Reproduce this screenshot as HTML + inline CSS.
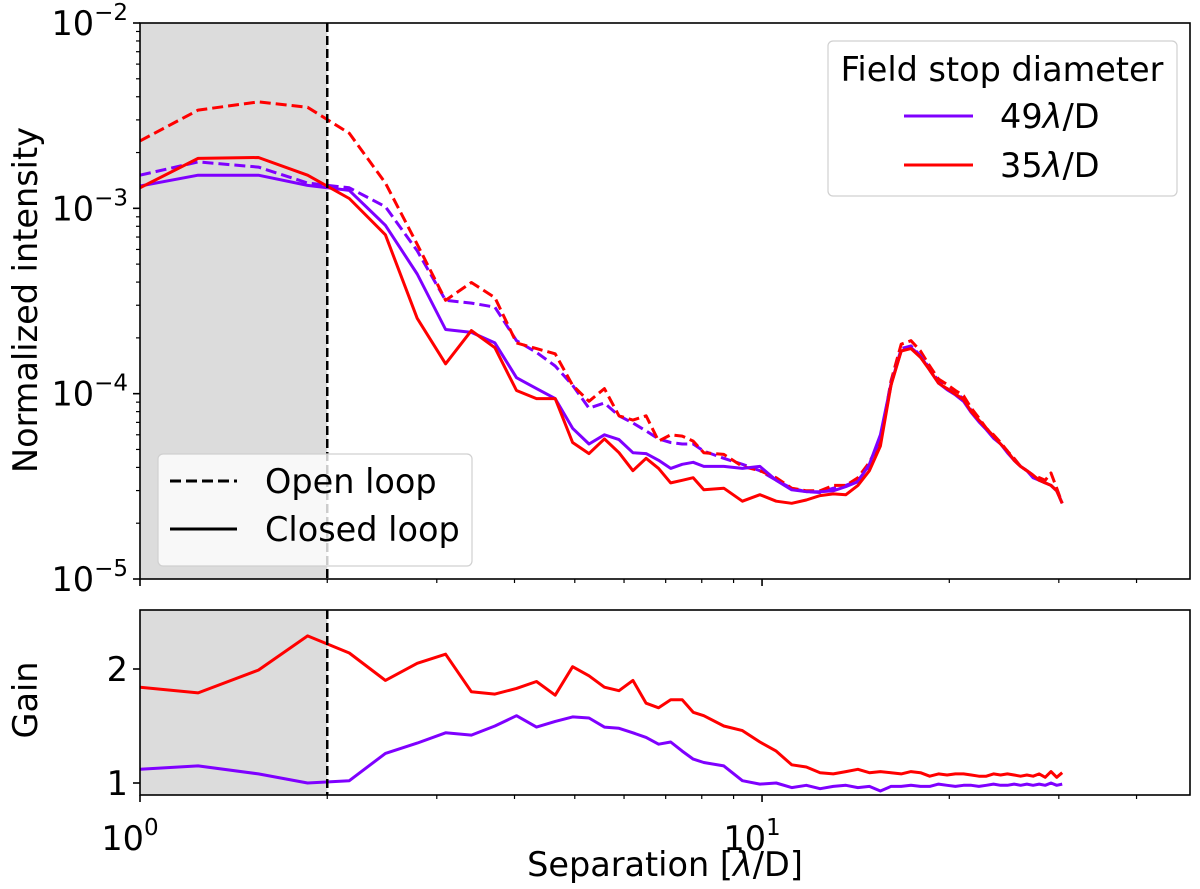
<!DOCTYPE html>
<html><head><meta charset="utf-8"><style>
html,body{margin:0;padding:0;background:#fff;}
svg{display:block;font-family:"DejaVu Sans","Liberation Sans",sans-serif;}
</style></head><body>
<svg id="chart" width="1200" height="889" viewBox="0 0 1200 889" xmlns="http://www.w3.org/2000/svg"></svg>
<script>
const separation=[1.0,1.24,1.55,1.86,2.17,2.48,2.79,3.1,3.41,3.72,4.03,4.34,4.65,4.96,5.27,5.58,5.89,6.2,6.51,6.82,7.13,7.44,7.75,8.06,8.68,9.3,9.92,10.54,11.16,11.78,12.4,13.02,13.64,14.26,14.88,15.5,16.12,16.74,17.36,17.98,18.6,19.22,19.84,20.46,21.08,21.7,22.32,22.94,23.56,24.18,24.8,25.42,26.04,26.66,27.28,27.9,28.52,29.14,29.76,30.38];
const open35=[2.31e-3,3.39e-3,3.75e-3,3.51e-3,2.54e-3,1.37e-3,6.4e-4,3.19e-4,3.98e-4,3.3e-4,1.88e-4,1.75e-4,1.64e-4,1.11e-4,9.1e-5,1.065e-4,7.6e-5,7.2e-5,7.6e-5,5.55e-5,6.0e-5,5.9e-5,5.55e-5,4.8e-5,4.7e-5,4.05e-5,3.84e-5,3.52e-5,3.09e-5,2.99e-5,2.99e-5,3.2e-5,3.2e-5,3.52e-5,4.26e-5,5.55e-5,1.17e-4,1.85e-4,1.93e-4,1.70e-4,1.41e-4,1.20e-4,1.12e-4,1.04e-4,9.75e-5,8.35e-5,7.4e-5,6.5e-5,6.0e-5,5.45e-5,4.9e-5,4.48e-5,4.05e-5,3.84e-5,3.63e-5,3.52e-5,3.41e-5,3.73e-5,3.09e-5,2.56e-5];
const open49=[1.51e-3,1.78e-3,1.67e-3,1.37e-3,1.29e-3,1.02e-3,5.9e-4,3.19e-4,3.08e-4,2.93e-4,1.93e-4,1.67e-4,1.41e-4,1.11e-4,8.35e-5,8.9e-5,7.6e-5,6.95e-5,6.3e-5,5.7e-5,5.45e-5,5.35e-5,5.35e-5,4.9e-5,4.48e-5,4.16e-5,3.84e-5,3.41e-5,3.09e-5,2.96e-5,2.93e-5,3.09e-5,3.2e-5,3.41e-5,4.05e-5,5.55e-5,1.11e-4,1.75e-4,1.81e-4,1.60e-4,1.37e-4,1.17e-4,1.065e-4,1.01e-4,9.4e-5,8.1e-5,7.2e-5,6.5e-5,5.9e-5,5.35e-5,4.9e-5,4.37e-5,4.05e-5,3.84e-5,3.63e-5,3.41e-5,3.3e-5,3.2e-5,2.99e-5,2.56e-5];
const closed49=[1.32e-3,1.51e-3,1.51e-3,1.33e-3,1.25e-3,8.1e-4,4.42e-4,2.22e-4,2.14e-4,1.88e-4,1.22e-4,1.065e-4,9.4e-5,6.5e-5,5.35e-5,6.0e-5,5.65e-5,4.8e-5,4.75e-5,4.37e-5,3.95e-5,4.16e-5,4.26e-5,4.05e-5,4.05e-5,3.95e-5,4.05e-5,3.41e-5,3.03e-5,2.96e-5,2.96e-5,2.99e-5,3.15e-5,3.35e-5,4.16e-5,6.0e-5,1.13e-4,1.70e-4,1.77e-4,1.60e-4,1.34e-4,1.14e-4,1.05e-4,9.85e-5,9.1e-5,7.9e-5,7.05e-5,6.4e-5,5.75e-5,5.35e-5,4.8e-5,4.37e-5,4.05e-5,3.84e-5,3.52e-5,3.41e-5,3.3e-5,3.2e-5,2.99e-5,2.56e-5];
const closed35=[1.29e-3,1.86e-3,1.88e-3,1.51e-3,1.13e-3,7.2e-4,2.55e-4,1.45e-4,2.19e-4,1.77e-4,1.04e-4,9.4e-5,9.4e-5,5.45e-5,4.75e-5,5.7e-5,4.8e-5,3.84e-5,4.48e-5,3.95e-5,3.3e-5,3.41e-5,3.52e-5,3.03e-5,3.09e-5,2.63e-5,2.85e-5,2.63e-5,2.56e-5,2.67e-5,2.82e-5,2.88e-5,2.85e-5,3.2e-5,3.84e-5,5.22e-5,1.11e-4,1.70e-4,1.75e-4,1.57e-4,1.34e-4,1.14e-4,1.065e-4,9.95e-5,9.3e-5,8.0e-5,7.2e-5,6.5e-5,5.9e-5,5.35e-5,4.9e-5,4.37e-5,4.05e-5,3.84e-5,3.63e-5,3.41e-5,3.3e-5,3.2e-5,2.99e-5,2.56e-5];
const gain35=[1.84,1.79,1.99,2.29,2.14,1.90,2.05,2.13,1.80,1.78,1.83,1.89,1.77,2.02,1.94,1.84,1.81,1.90,1.70,1.66,1.73,1.73,1.62,1.59,1.50,1.46,1.36,1.28,1.16,1.14,1.09,1.08,1.10,1.12,1.09,1.10,1.09,1.08,1.10,1.09,1.06,1.08,1.07,1.08,1.08,1.07,1.06,1.06,1.08,1.07,1.08,1.07,1.06,1.07,1.06,1.08,1.05,1.10,1.05,1.09];
const gain49=[1.12,1.15,1.08,1.00,1.02,1.26,1.35,1.44,1.42,1.50,1.59,1.49,1.54,1.58,1.57,1.49,1.48,1.44,1.40,1.34,1.36,1.28,1.21,1.18,1.15,1.02,0.99,1.00,0.96,0.98,0.95,0.97,0.98,0.96,0.97,0.93,0.97,0.97,0.98,0.97,0.97,0.99,0.98,0.97,0.98,0.98,0.97,0.98,0.99,0.98,0.98,0.99,0.98,0.99,0.98,0.99,0.98,1.00,0.98,0.99];
const yTickExps=[-2,-3,-4,-5];
const gainTicks=[1,2];
const xTickExps=[0,1];

const NS="http://www.w3.org/2000/svg";
const svg=document.getElementById('chart');
const L=140,R=1190,T1=23,B1=579,T2=610,B2=795;
const xMin=0,xMax=1.688;
const FS=33.5,SUP=23;
const X=v=>L+(Math.log10(v)-xMin)/(xMax-xMin)*(R-L);
const Y1=v=>T1+(-2-Math.log10(v))/3*(B1-T1);
const Y2=v=>783-(v-1)*114;
function el(tag,attrs,parent){const e=document.createElementNS(NS,tag);for(const k in attrs)e.setAttribute(k,attrs[k]);(parent||svg).appendChild(e);return e;}

const defs=el('defs',{});
const c1=el('clipPath',{id:'c1'},defs);el('rect',{x:L,y:T1,width:R-L,height:B1-T1},c1);
const c2=el('clipPath',{id:'c2'},defs);el('rect',{x:L,y:T2,width:R-L,height:B2-T2},c2);

function panel(T,B,name){
  const g=el('g',{});
  
  
  const sh=el('rect',{x:L,y:T,width:X(2)-L,height:B-T,fill:'#dcdcdc'},g);
  
  
  return g;
}
const p1=panel(T1,B1,'intensity-panel');
const p2=panel(T2,B2,'gain-panel');

function line(g,xs,ys,yf,color,dash,name,clip){
  const d=xs.map((x,i)=>(i?'L':'M')+X(x).toFixed(1)+','+yf(ys[i]).toFixed(1)).join('');
  const p=el('path',{d:d,fill:'none',stroke:color,'stroke-width':3,'stroke-linejoin':'round','clip-path':'url(#'+clip+')'},g);
  if(dash)p.setAttribute('stroke-dasharray','11,5');
  
  
}
const PURPLE='#7f00ff',RED='#ff0000';
line(p1,separation,open49,Y1,PURPLE,true,'open-loop-49-line','c1');
line(p1,separation,open35,Y1,RED,true,'open-loop-35-line','c1');
line(p1,separation,closed49,Y1,PURPLE,false,'closed-loop-49-line','c1');
line(p1,separation,closed35,Y1,RED,false,'closed-loop-35-line','c1');
line(p2,separation,gain35,Y2,RED,false,'gain-35-line','c2');
line(p2,separation,gain49,Y2,PURPLE,false,'gain-49-line','c2');

[[T1,B1],[T2,B2]].forEach(([t,b])=>{
  const v=el('line',{x1:X(2),x2:X(2),y1:t,y2:b,stroke:'#000','stroke-width':2.5,'stroke-dasharray':'9,4'});
  
  
});

[[T1,B1,'intensity-axes-frame'],[T2,B2,'gain-axes-frame']].forEach(([t,b,n])=>{
  const f=el('rect',{x:L,y:t,width:R-L,height:b-t,fill:'none',stroke:'#000','stroke-width':1.6});
  
  
});

const minorX=[2,3,4,5,6,7,8,9,20,30,40];
[B1,B2].forEach(b=>{
  xTickExps.forEach(e=>{el('line',{x1:X(Math.pow(10,e)),x2:X(Math.pow(10,e)),y1:b,y2:b+7,stroke:'#000','stroke-width':1.6});});
  minorX.forEach(v=>{el('line',{x1:X(v),x2:X(v),y1:b,y2:b+4,stroke:'#000','stroke-width':1.2});});
});
xTickExps.forEach(e=>{
  const t=el('text',{x:X(Math.pow(10,e))-10,y:850,'font-size':FS,'text-anchor':'middle',fill:'#000'});
  
  
  t.textContent='10';
  const s=el('tspan',{dy:-15,'font-size':SUP},t);s.textContent=String(e);
});
yTickExps.forEach(e=>{
  const y=Y1(Math.pow(10,e));
  el('line',{x1:L-7,x2:L,y1:y,y2:y,stroke:'#000','stroke-width':1.6});
  if(e>-5){for(let m=2;m<=9;m++){const ym=Y1(m*Math.pow(10,e-1));el('line',{x1:L-4,x2:L,y1:ym,y2:ym,stroke:'#000','stroke-width':1.2});}}
  const t=el('text',{x:L-12,y:y+12,'font-size':FS,'text-anchor':'end',fill:'#000'});
  
  
  t.textContent='10';
  const s=el('tspan',{dy:-15,'font-size':SUP},t);s.textContent='\u2212'+Math.abs(e);
});
gainTicks.forEach(v=>{
  const y=Y2(v);
  el('line',{x1:L-7,x2:L,y1:y,y2:y,stroke:'#000','stroke-width':1.6});
  const t=el('text',{x:L-12,y:y+12,'font-size':FS,'text-anchor':'end',fill:'#000'});
  
  
  t.textContent=String(v);
});
</script>
<svg width="1200" height="889" style="position:absolute;left:0;top:0" xmlns="http://www.w3.org/2000/svg" font-family="DejaVu Sans, Liberation Sans, sans-serif">
  <text x="665" y="876" font-size="33.5" text-anchor="middle">Separation [<tspan font-style="italic">λ</tspan>/D]</text>
  <text transform="translate(37,300) rotate(-90)" font-size="33.5" text-anchor="middle">Normalized intensity</text>
  <text transform="translate(37,700) rotate(-90)" font-size="33.5" text-anchor="middle">Gain</text>
  <g>
    <rect x="158" y="454" width="314" height="112" rx="5" fill="#ffffff" fill-opacity="0.8" stroke="#d0d0d0" stroke-width="1.2"/>
    <line x1="170" y1="481" x2="237" y2="481" stroke="#000" stroke-width="3" stroke-dasharray="11,5"/>
    <text x="265" y="493" font-size="33.5">Open loop</text>
    <line x1="170" y1="529" x2="237" y2="529" stroke="#000" stroke-width="3"/>
    <text x="265" y="541" font-size="33.5">Closed loop</text>
  </g>
  <g>
    <rect x="828" y="41" width="349" height="155" rx="5" fill="#ffffff" fill-opacity="0.8" stroke="#d0d0d0" stroke-width="1.2"/>
    <text x="1002" y="81" font-size="33.5" text-anchor="middle">Field stop diameter</text>
    <line x1="904" y1="116" x2="973" y2="116" stroke="#7f00ff" stroke-width="3"/>
    <text x="1000" y="128" font-size="33.5">49<tspan font-style="italic">λ</tspan>/D</text>
    <line x1="904" y1="165" x2="973" y2="165" stroke="#ff0000" stroke-width="3"/>
    <text x="1000" y="177" font-size="33.5">35<tspan font-style="italic">λ</tspan>/D</text>
  </g>
</svg>
</body></html>
